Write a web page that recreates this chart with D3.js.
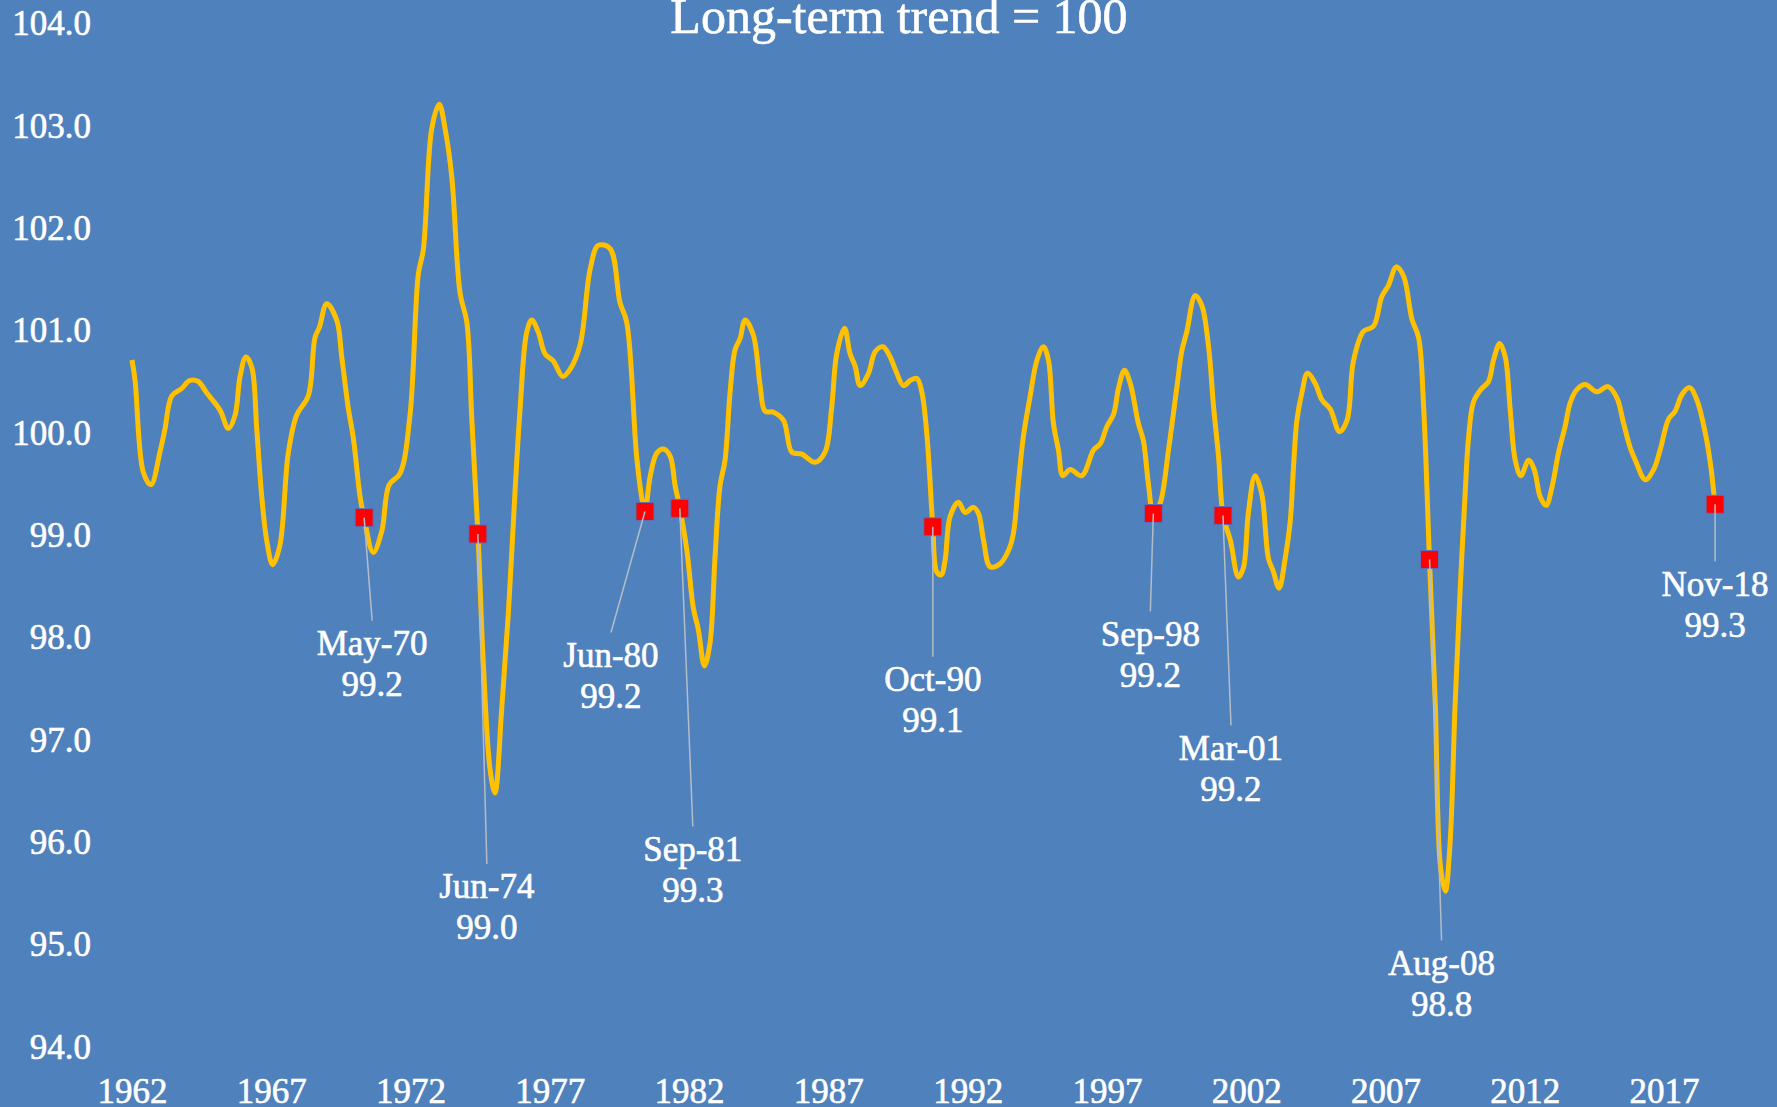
<!DOCTYPE html>
<html>
<head>
<meta charset="utf-8">
<script src="https://cdn.jsdelivr.net/npm/d3@7"></script>
<style>
  body { margin: 0; background: #4F81BD; overflow: hidden; }
  svg { display: block; }
  text { font-family: "Liberation Serif", "Times New Roman", serif; fill: #ffffff; stroke: #ffffff; stroke-width: 0.6px; }
</style>
</head>
<body>
<script>
// cycle index, long-term trend = 100
const trendDates = [
  1962.00, 1962.11, 1962.41, 1962.68, 1963.01, 1963.18, 1963.43, 1963.78, 1964.08, 1964.38,
  1964.68, 1965.16, 1965.46, 1965.70, 1965.88, 1966.09, 1966.30, 1966.48, 1966.66, 1966.84,
  1967.05, 1967.31, 1967.61, 1967.91, 1968.33, 1968.57, 1968.73, 1968.99, 1969.35, 1969.53,
  1969.77, 1969.95, 1970.19, 1970.33, 1970.66, 1970.97, 1971.23, 1971.62, 1971.98, 1972.28,
  1972.46, 1972.76, 1973.03, 1973.24, 1973.48, 1973.78, 1974.02, 1974.20, 1974.42, 1974.61,
  1974.85, 1975.03, 1975.27, 1975.51, 1975.75, 1975.93, 1976.17, 1976.35, 1976.59, 1976.83,
  1977.13, 1977.46, 1977.73, 1978.09, 1978.45, 1978.74, 1979.16, 1979.52, 1979.76, 1980.12,
  1980.33, 1980.42, 1980.60, 1980.84, 1981.08, 1981.32, 1981.50, 1981.67, 1981.92, 1982.15,
  1982.33, 1982.55, 1982.75, 1982.93, 1983.11, 1983.29, 1983.47, 1983.65, 1983.83, 1984.01,
  1984.31, 1984.55, 1984.73, 1985.03, 1985.39, 1985.69, 1986.05, 1986.52, 1986.88, 1987.12,
  1987.30, 1987.58, 1987.78, 1987.96, 1988.14, 1988.44, 1988.68, 1988.96, 1989.22, 1989.40,
  1989.70, 1989.94, 1990.18, 1990.36, 1990.54, 1990.75, 1990.89, 1991.05, 1991.19, 1991.37,
  1991.67, 1991.91, 1992.21, 1992.39, 1992.57, 1992.81, 1993.17, 1993.47, 1993.64, 1993.82,
  1994.00, 1994.24, 1994.49, 1994.72, 1994.90, 1995.08, 1995.26, 1995.42, 1995.68, 1996.10,
  1996.52, 1996.76, 1997.00, 1997.24, 1997.42, 1997.63, 1997.84, 1998.13, 1998.31, 1998.49,
  1998.67, 1998.91, 1999.21, 1999.51, 1999.69, 1999.87, 2000.17, 2000.41, 2000.65, 2000.83,
  2001.01, 2001.17, 2001.43, 2001.72, 2001.90, 2002.08, 2002.32, 2002.56, 2002.80, 2002.98,
  2003.18, 2003.40, 2003.58, 2003.70, 2003.82, 2004.00, 2004.20, 2004.48, 2004.72, 2005.02,
  2005.35, 2005.62, 2005.85, 2006.21, 2006.57, 2006.87, 2007.11, 2007.39, 2007.65, 2007.95,
  2008.19, 2008.37, 2008.58, 2008.79, 2008.97, 2009.15, 2009.32, 2009.50, 2009.68, 2009.86,
  2009.98, 2010.16, 2010.42, 2010.70, 2010.88, 2011.10, 2011.30, 2011.48, 2011.66, 2011.86,
  2012.14, 2012.34, 2012.56, 2012.77, 2012.98, 2013.21, 2013.45, 2013.63, 2013.87, 2014.17,
  2014.59, 2014.99, 2015.31, 2015.55, 2015.79, 2015.97, 2016.33, 2016.63, 2016.87, 2017.16,
  2017.40, 2017.64, 2017.92, 2018.18, 2018.48, 2018.66, 2018.83
];
const trendValues = [
  100.71, 100.51, 99.61, 99.49, 99.82, 100.03, 100.36, 100.43, 100.51, 100.50,
  100.39, 100.22, 100.04, 100.17, 100.55, 100.74, 100.64, 100.03, 99.37, 98.94,
  98.71, 98.90, 99.80, 100.17, 100.36, 100.93, 101.03, 101.26, 101.10, 100.74,
  100.23, 99.94, 99.37, 99.17, 98.83, 99.04, 99.49, 99.60, 100.17, 101.55,
  101.79, 102.97, 103.21, 102.97, 102.50, 101.36, 101.08, 100.13, 99.01, 97.76,
  96.72, 96.48, 97.29, 98.23, 99.42, 100.22, 100.98, 101.10, 100.98, 100.77,
  100.70, 100.55, 100.62, 100.86, 101.60, 101.83, 101.80, 101.27, 101.08, 99.76,
  99.32, 99.23, 99.57, 99.80, 99.84, 99.77, 99.48, 99.26, 98.85, 98.29,
  98.08, 97.72, 97.94, 98.78, 99.48, 99.73, 100.39, 100.81, 100.92, 101.10,
  100.95, 100.46, 100.21, 100.20, 100.12, 99.81, 99.79, 99.71, 99.81, 100.25,
  100.77, 101.02, 100.77, 100.65, 100.46, 100.58, 100.79, 100.84, 100.74, 100.62,
  100.46, 100.51, 100.53, 100.39, 99.97, 99.08, 98.64, 98.61, 98.75, 99.18,
  99.32, 99.22, 99.27, 99.21, 98.95, 98.69, 98.72, 98.85, 99.01, 99.50,
  99.96, 100.35, 100.71, 100.84, 100.71, 100.09, 99.83, 99.58, 99.64, 99.58,
  99.83, 99.89, 100.06, 100.18, 100.44, 100.61, 100.48, 100.09, 99.92, 99.50,
  99.21, 99.31, 99.83, 100.44, 100.80, 100.99, 101.34, 101.24, 100.84, 100.25,
  99.76, 99.19, 98.95, 98.59, 98.68, 99.22, 99.58, 99.40, 98.77, 98.64,
  98.48, 98.77, 99.13, 99.67, 100.12, 100.39, 100.58, 100.48, 100.32, 100.23,
  100.01, 100.12, 100.70, 100.99, 101.04, 101.33, 101.44, 101.62, 101.53, 101.11,
  100.93, 100.25, 98.76, 97.34, 95.77, 95.52, 95.99, 97.34, 98.46, 99.40,
  99.94, 100.30, 100.42, 100.50, 100.71, 100.87, 100.74, 100.22, 99.73, 99.58,
  99.73, 99.64, 99.37, 99.29, 99.47, 99.80, 100.06, 100.29, 100.42, 100.47,
  100.40, 100.45, 100.34, 100.09, 99.85, 99.73, 99.54, 99.64, 99.84, 100.13,
  100.21, 100.37, 100.44, 100.32, 100.00, 99.71, 99.30
];

// highlighted months
const markerLabels = ["May-70", "Jun-74", "Jun-80", "Sep-81", "Oct-90", "Sep-98", "Mar-01", "Aug-08", "Nov-18"];
const markerValues = [99.17, 99.01, 99.23, 99.26, 99.08, 99.21, 99.19, 98.76, 99.30];

const xTicks = d3.range(1962, 2018, 5);
const yTicks = d3.range(94, 104.5, 1);

// where each data label sits, relative to its marker (px)
const labelOffsets = [[8, 126], [9, 353], [-34, 144], [13, 341], [0, 153], [-3, 121], [8, 233], [12, 404], [0, 80]];

const width = 1777, height = 1107;

const svg = d3.select("body").append("svg")
    .attr("width", width)
    .attr("height", height);

svg.append("rect")
    .attr("width", width)
    .attr("height", height)
    .attr("fill", "#4F81BD");

let x = d3.scaleLinear().domain([1962, 2017]).range([132, 1664]);
let y = d3.scaleLinear().domain([94, 104]).range([1046.7, 23.3]);

// title
svg.append("text")
    .attr("x", 899)
    .attr("y", 33)
    .attr("text-anchor", "middle")
    .style("font-size", "50px")
    .text("Long-term trend = 100");

// y axis (labels only)
let yAxis = svg.append("g")
    .attr("transform", "translate(91,0)")
    .call(d3.axisLeft(y).tickValues(yTicks).tickFormat(d3.format(".1f")).tickSize(0).tickPadding(0));
yAxis.select(".domain").remove();
yAxis.selectAll("text")
    .attr("fill", "#fff")
    .attr("dy", "0.33em")
    .style("font-size", "35px")
    .style("font-family", "Liberation Serif, serif");

// x axis (labels only)
let xAxis = svg.append("g")
    .attr("transform", "translate(0,1103)")
    .call(d3.axisBottom(x).tickValues(xTicks).tickFormat(d3.format("d")).tickSize(0).tickPadding(0));
xAxis.select(".domain").remove();
xAxis.selectAll("text")
    .attr("fill", "#fff")
    .attr("dy", "0")
    .style("font-size", "35px")
    .style("font-family", "Liberation Serif, serif");

// the cycle line
let series = trendDates.map(function(d, i) { return { t: d, v: trendValues[i] }; });

let line = d3.line()
    .x(function(d) { return x(d.t); })
    .y(function(d) { return y(d.v); })
    .curve(d3.curveCatmullRom.alpha(0.5));

svg.append("path")
    .datum(series)
    .attr("fill", "none")
    .attr("stroke", "#FFC000")
    .attr("stroke-width", 5)
    .attr("stroke-linejoin", "round")
    .attr("d", line);

// markers + labels
let parseMonth = d3.timeParse("%b-%y");
let points = markerLabels.map(function(lab, i) {
    let dt = parseMonth(lab);
    return {
        label: lab,
        v: markerValues[i],
        t: dt.getFullYear() + dt.getMonth() / 12,
        off: labelOffsets[i]
    };
});

let marks = svg.append("g").attr("class", "markers");

marks.selectAll("rect")
    .data(points)
    .enter().append("rect")
    .attr("x", function(d) { return x(d.t) - 9; })
    .attr("y", function(d) { return y(d.v) - 9; })
    .attr("width", 18)
    .attr("height", 18)
    .attr("fill", "#FF0000")
    .attr("stroke", "#5a6fc0")
    .attr("stroke-width", 1);

marks.selectAll("line")
    .data(points)
    .enter().append("line")
    .attr("x1", function(d) { return x(d.t); })
    .attr("y1", function(d) { return y(d.v); })
    .attr("x2", function(d) { return x(d.t) + d.off[0]; })
    .attr("y2", function(d) { return y(d.v) + d.off[1] - 23; })
    .attr("stroke", "#B4BCC8")
    .attr("stroke-width", 1.5);

let labels = marks.selectAll("text")
    .data(points)
    .enter().append("text")
    .attr("text-anchor", "middle")
    .style("font-size", "35px");

labels.append("tspan")
    .attr("x", function(d) { return x(d.t) + d.off[0]; })
    .attr("y", function(d) { return y(d.v) + d.off[1] + 11.5; })
    .text(function(d) { return d.label; });

labels.append("tspan")
    .attr("x", function(d) { return x(d.t) + d.off[0]; })
    .attr("y", function(d) { return y(d.v) + d.off[1] + 52.5; })
    .text(function(d) { return d3.format(".1f")(d.v); });
</script>
</body>
</html>
